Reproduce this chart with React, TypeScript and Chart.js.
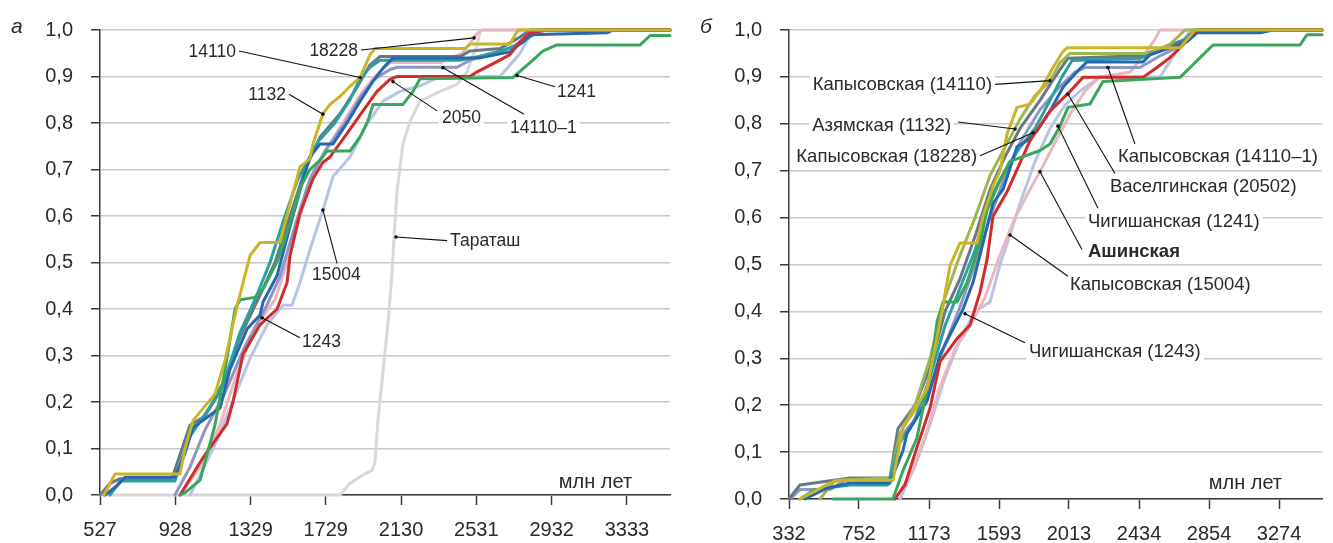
import React, { useEffect, useRef } from "react";
import { Chart, registerables } from "chart.js";

Chart.register(...registerables);

// ---------- axes ----------
const Y_TICKS = [0, 0.1, 0.2, 0.3, 0.4, 0.5, 0.6, 0.7, 0.8, 0.9, 1.0];
const L_X_TICKS = [527, 928, 1329, 1729, 2130, 2531, 2932, 3333];
const R_X_TICKS = [332, 752, 1173, 1593, 2013, 2434, 2854, 3274];
const L_X_RANGE = [527, 3562];
const R_X_RANGE = [332, 3532];

type P = [number, number];

// ---------- panel а ----------
const L_1132: P[] = [[548,0],[607,0.045],[953,0.045],[980,0.1],[1022,0.16],[1139,0.217],[1193,0.29],[1262,0.415],[1326,0.515],[1379,0.543],[1486,0.543],[1512,0.585],[1592,0.706],[1645,0.723],[1661,0.755],[1714,0.82],[1752,0.84],[1805,0.857],[1858,0.879],[1912,0.898],[1965,0.947],[1991,0.96],[2471,0.96],[2497,0.97],[2710,0.97],[2753,1],[3562,1]];
const L_1241: P[] = [[953,0],[980,0.005],[1060,0.032],[1139,0.15],[1193,0.27],[1246,0.4],[1273,0.42],[1352,0.425],[1395,0.443],[1475,0.506],[1539,0.585],[1592,0.66],[1645,0.7],[1699,0.72],[1736,0.74],[1858,0.74],[1912,0.77],[1954,0.805],[1981,0.84],[2140,0.84],[2194,0.868],[2231,0.895],[2726,0.898],[2817,0.93],[2886,0.955],[2960,0.968],[3403,0.968],[3456,0.988],[3562,0.988]];
const L_2050: P[] = [[953,0],[1075,0.08],[1150,0.123],[1203,0.153],[1235,0.2],[1288,0.302],[1379,0.366],[1470,0.4],[1523,0.457],[1539,0.515],[1592,0.606],[1661,0.68],[1714,0.715],[1752,0.727],[1842,0.777],[1927,0.826],[2002,0.868],[2071,0.894],[2109,0.9],[2497,0.9],[2535,0.91],[2641,0.932],[2710,0.947],[2764,0.975],[2817,0.994],[2907,1],[3562,1]];
const L_1243: P[] = [[554,0],[618,0.02],[660,0.038],[926,0.038],[980,0.09],[1022,0.145],[1166,0.187],[1219,0.27],[1310,0.357],[1379,0.387],[1395,0.415],[1470,0.472],[1539,0.578],[1592,0.655],[1645,0.727],[1699,0.755],[1768,0.755],[1842,0.8],[1912,0.847],[1981,0.89],[2034,0.918],[2087,0.94],[2551,0.94],[2710,0.953],[2780,0.975],[2817,0.99],[3227,0.994],[3259,1],[3562,1]];
const L_14110: P[] = [[580,0],[634,0.03],[926,0.03],[996,0.12],[1113,0.19],[1193,0.25],[1273,0.35],[1352,0.42],[1432,0.5],[1512,0.6],[1581,0.68],[1635,0.72],[1688,0.76],[1778,0.8],[1858,0.85],[1912,0.895],[1965,0.92],[2018,0.935],[2444,0.935],[2630,0.95],[2764,0.97],[2870,1],[3562,1]];
const L_GREY: P[] = [[527,0],[580,0.025],[634,0.035],[910,0.035],[964,0.1],[1006,0.15],[1086,0.17],[1177,0.23],[1273,0.34],[1379,0.43],[1459,0.5],[1539,0.6],[1619,0.7],[1699,0.77],[1805,0.82],[1885,0.87],[1965,0.925],[2018,0.943],[2444,0.943],[2497,0.955],[2657,0.96],[2764,0.985],[2817,1],[3562,1]];
const L_14110_1: P[] = [[926,0],[1006,0.06],[1086,0.14],[1193,0.22],[1299,0.32],[1406,0.4],[1486,0.47],[1566,0.58],[1645,0.68],[1725,0.74],[1832,0.8],[1912,0.855],[1991,0.895],[2071,0.915],[2109,0.92],[2428,0.92],[2497,0.935],[2604,0.95],[2710,0.96],[2817,0.99],[2897,1],[3562,1]];
const L_18228: P[] = [[953,0],[1060,0.06],[1166,0.15],[1246,0.25],[1352,0.36],[1459,0.42],[1539,0.52],[1619,0.64],[1699,0.72],[1805,0.79],[1912,0.86],[1991,0.9],[2071,0.93],[2338,0.93],[2455,0.95],[2497,0.97],[2529,0.99],[2561,1],[3562,1]];
const L_15004: P[] = [[1006,0],[1150,0.117],[1219,0.187],[1326,0.294],[1416,0.366],[1502,0.408],[1549,0.408],[1592,0.457],[1645,0.528],[1714,0.613],[1768,0.685],[1858,0.727],[1949,0.798],[2034,0.847],[2125,0.868],[2231,0.88],[2338,0.9],[2657,0.9],[2764,0.95],[2817,0.99],[2897,1],[3562,1]];
const L_TARATASH: P[] = [[527,0],[1805,0],[1858,0.025],[1927,0.043],[1975,0.053],[1991,0.07],[2007,0.16],[2034,0.266],[2061,0.372],[2082,0.479],[2093,0.557],[2109,0.655],[2140,0.755],[2178,0.804],[2231,0.847],[2338,0.868],[2428,0.883],[2481,0.91],[2535,0.968],[2551,0.996],[2567,1],[3562,1]];

// ---------- panel б ----------
const R_1132: P[] = [[398,0],[578,0.034],[638,0.04],[956,0.04],[1016,0.152],[1089,0.19],[1161,0.236],[1239,0.378],[1299,0.498],[1359,0.546],[1461,0.546],[1497,0.603],[1557,0.667],[1599,0.7],[1641,0.778],[1701,0.835],[1779,0.842],[1839,0.87],[1917,0.92],[1977,0.954],[2001,0.962],[2680,0.962],[2722,0.98],[2770,1],[3532,1]];
const R_1241: P[] = [[596,0],[956,0],[1016,0.06],[1100,0.13],[1179,0.265],[1221,0.378],[1257,0.42],[1341,0.42],[1401,0.462],[1479,0.546],[1521,0.616],[1599,0.68],[1659,0.72],[1839,0.743],[1899,0.757],[1959,0.795],[2007,0.835],[2139,0.842],[2217,0.89],[2680,0.899],[2740,0.92],[2800,0.941],[2878,0.968],[3400,0.968],[3442,0.99],[3532,0.99]];
const R_20502: P[] = [[968,0],[1028,0.03],[1100,0.11],[1179,0.194],[1239,0.293],[1341,0.342],[1419,0.371],[1479,0.441],[1521,0.511],[1557,0.603],[1641,0.655],[1779,0.764],[1899,0.827],[2019,0.869],[2097,0.899],[2457,0.899],[2541,0.92],[2619,0.941],[2698,0.968],[2740,0.99],[2800,1],[3532,1]];
const R_1243: P[] = [[428,0],[560,0.023],[698,0.034],[938,0.034],[1016,0.103],[1040,0.139],[1161,0.209],[1239,0.308],[1317,0.363],[1377,0.405],[1437,0.462],[1497,0.546],[1557,0.631],[1617,0.66],[1701,0.751],[1761,0.764],[1821,0.785],[1899,0.827],[1977,0.878],[2061,0.911],[2121,0.932],[2457,0.932],[2499,0.947],[2620,0.962],[2722,0.975],[2782,0.994],[3160,0.994],[3238,1],[3532,1]];
const R_18228: P[] = [[398,0],[488,0.02],[698,0.03],[926,0.03],[998,0.12],[1089,0.17],[1179,0.26],[1269,0.37],[1359,0.45],[1449,0.53],[1539,0.64],[1629,0.7],[1719,0.75],[1809,0.79],[1899,0.85],[1971,0.9],[2031,0.935],[2439,0.94],[2560,0.955],[2680,0.97],[2770,1],[3532,1]];
const R_14110: P[] = [[518,0],[608,0.04],[938,0.045],[998,0.14],[1089,0.2],[1179,0.3],[1269,0.43],[1359,0.52],[1449,0.6],[1539,0.69],[1629,0.75],[1719,0.81],[1809,0.86],[1899,0.892],[1959,0.93],[2019,0.95],[2499,0.95],[2620,0.97],[2710,1],[3532,1]];
const R_GREY: P[] = [[332,0],[398,0.03],[698,0.045],[938,0.045],[986,0.15],[1089,0.2],[1179,0.28],[1269,0.4],[1359,0.47],[1449,0.56],[1539,0.66],[1629,0.73],[1719,0.79],[1839,0.85],[1929,0.9],[2007,0.94],[2439,0.945],[2560,0.96],[2710,0.98],[2800,1],[3532,1]];
const R_14110_1: P[] = [[338,0],[398,0.02],[578,0.02],[668,0.04],[950,0.04],[998,0.13],[1089,0.17],[1179,0.24],[1269,0.33],[1359,0.41],[1449,0.5],[1539,0.6],[1629,0.69],[1719,0.76],[1839,0.83],[1959,0.88],[2049,0.91],[2109,0.92],[2439,0.92],[2560,0.945],[2650,0.96],[2740,0.99],[2800,1],[3532,1]];
const R_ASHA: P[] = [[968,0],[1058,0.05],[1148,0.13],[1239,0.24],[1329,0.32],[1419,0.37],[1509,0.43],[1599,0.52],[1689,0.6],[1779,0.66],[1839,0.698],[1929,0.76],[2019,0.82],[2109,0.87],[2199,0.9],[2379,0.91],[2469,0.95],[2529,0.98],[2559,1],[3532,1]];
const R_15004: P[] = [[998,0],[1089,0.07],[1179,0.16],[1269,0.26],[1359,0.34],[1449,0.4],[1539,0.42],[1599,0.5],[1659,0.563],[1719,0.63],[1809,0.72],[1899,0.79],[1989,0.84],[2079,0.87],[2199,0.9],[2560,0.9],[2650,0.95],[2740,1],[3532,1]];

// ---------- styles ----------
const C = {
  yellow: "#c9b526",
  green: "#38a65b",
  red: "#d22b2b",
  blue: "#2668b0",
  teal: "#27a29e",
  olive: "#a0b64c",
  steel: "#667888",
  lavender: "#9096c4",
  pink: "#eab6bf",
  lightblue: "#b8c4e3",
  grey: "#d8d8d8",
};

type Series = { name: string; pts: P[]; color: string };

const LEFT_SERIES: Series[] = [
  { name: "1132", pts: L_1132, color: C.yellow },
  { name: "1241", pts: L_1241, color: C.green },
  { name: "2050", pts: L_2050, color: C.red },
  { name: "1243", pts: L_1243, color: C.blue },
  { name: "14110", pts: L_14110, color: C.teal },
  { name: "—", pts: L_GREY, color: C.steel },
  { name: "14110–1", pts: L_14110_1, color: C.lavender },
  { name: "18228", pts: L_18228, color: C.pink },
  { name: "15004", pts: L_15004, color: C.lightblue },
  { name: "Тараташ", pts: L_TARATASH, color: C.grey },
];

const RIGHT_SERIES: Series[] = [
  { name: "Азямская (1132)", pts: R_1132, color: C.yellow },
  { name: "Чигишанская (1241)", pts: R_1241, color: C.green },
  { name: "Васелгинская (20502)", pts: R_20502, color: C.red },
  { name: "Чигишанская (1243)", pts: R_1243, color: C.blue },
  { name: "Капысовская (18228)", pts: R_18228, color: C.teal },
  { name: "Капысовская (14110)", pts: R_14110, color: C.olive },
  { name: "—", pts: R_GREY, color: C.steel },
  { name: "Капысовская (14110–1)", pts: R_14110_1, color: C.lavender },
  { name: "Ашинская", pts: R_ASHA, color: C.pink },
  { name: "Капысовская (15004)", pts: R_15004, color: C.lightblue },
];

// annotations: label anchor (tx,ty), optional line start (lx,ly), target point (px,py) — data units
type Ann = { text: string; tx: number; ty: number; align: "left" | "right"; bold?: boolean; lx?: number; ly?: number; px: number; py: number };

const LEFT_ANN: Ann[] = [
  { text: "14110", tx: 1251, ty: 0.955, align: "right", px: 1912, py: 0.898 },
  { text: "18228", tx: 1901, ty: 0.957, align: "right", px: 2519, py: 0.983 },
  { text: "1132", tx: 1517, ty: 0.862, align: "right", px: 1714, py: 0.819 },
  { text: "1241", tx: 2960, ty: 0.868, align: "left", lx: 2950, ly: 0.878, px: 2748, py: 0.902 },
  { text: "2050", tx: 2348, ty: 0.813, align: "left", lx: 2322, ly: 0.826, px: 2087, py: 0.889 },
  { text: "14110–1", tx: 2710, ty: 0.791, align: "left", lx: 2785, ly: 0.819, px: 2353, py: 0.919 },
  { text: "Тараташ", tx: 2391, ty: 0.547, align: "left", px: 2103, py: 0.555 },
  { text: "15004", tx: 1656, ty: 0.474, align: "left", lx: 1789, ly: 0.498, px: 1714, py: 0.613 },
  { text: "1243", tx: 1603, ty: 0.33, align: "left", lx: 1592, ly: 0.338, px: 1390, py: 0.381 },
];

const RIGHT_ANN: Ann[] = [
  { text: "Капысовская (14110)", tx: 1551, ty: 0.884, align: "right", px: 1899, py: 0.892 },
  { text: "Азямская (1132)", tx: 1305, ty: 0.797, align: "right", lx: 1347, ly: 0.804, px: 1689, py: 0.789 },
  { text: "Капысовская (18228)", tx: 1461, ty: 0.732, align: "right", px: 1797, py: 0.781 },
  { text: "Капысовская (14110–1)", tx: 2307, ty: 0.732, align: "left", lx: 2409, ly: 0.757, px: 2247, py: 0.92 },
  { text: "Васелгинская (20502)", tx: 2259, ty: 0.667, align: "left", lx: 2289, ly: 0.694, px: 2007, py: 0.863 },
  { text: "Чигишанская (1241)", tx: 2127, ty: 0.593, align: "left", lx: 2187, ly: 0.62, px: 1947, py: 0.795 },
  { text: "Ашинская", tx: 2127, ty: 0.53, align: "left", bold: true, lx: 2091, ly: 0.532, px: 1839, py: 0.698 },
  { text: "Капысовская (15004)", tx: 2019, ty: 0.458, align: "left", lx: 2007, ly: 0.475, px: 1659, py: 0.563 },
  { text: "Чигишанская (1243)", tx: 1773, ty: 0.316, align: "left", lx: 1749, ly: 0.333, px: 1389, py: 0.395 },
];

const FONT = "'Liberation Sans', Arial, sans-serif";
const AXIS_COLOR = "#3a3a3a";
const TEXT_COLOR = "#2a2a2a";

type PanelCfg = {
  series: Series[];
  ann: Ann[];
  annSize: number;
  xTicks: number[];
  xRange: number[];
  letter: string;
  unitX: number;
  unitY: number;
  padRight: number;
  xHeight: number;
};

function makeChart(canvas: HTMLCanvasElement, cfg: PanelCfg) {
  const annPlugin = {
    id: "ann",
    afterDatasetsDraw(chart: any) {
      const ctx = chart.ctx as CanvasRenderingContext2D;
      const xs = chart.scales.x;
      const ys = chart.scales.y;
      ctx.save();
      for (const a of cfg.ann) {
        ctx.font = `${a.bold ? "bold " : ""}${cfg.annSize}px ${FONT}`;
        const w = ctx.measureText(a.text).width;
        const tx = xs.getPixelForValue(a.tx);
        const ty = ys.getPixelForValue(a.ty);
        const left = a.align === "left" ? tx : tx - w;
        ctx.fillStyle = "#ffffff";
        ctx.fillRect(left - 3, ty - 10, w + 6, 20);
        const px = xs.getPixelForValue(a.px);
        const py = ys.getPixelForValue(a.py);
        let lx: number, ly: number;
        if (a.lx !== undefined && a.ly !== undefined) {
          lx = xs.getPixelForValue(a.lx);
          ly = ys.getPixelForValue(a.ly);
        } else {
          lx = a.align === "left" ? tx - 3 : tx + 3;
          ly = ty;
        }
        ctx.strokeStyle = "#111";
        ctx.lineWidth = 1.1;
        ctx.beginPath();
        ctx.moveTo(lx, ly);
        ctx.lineTo(px, py);
        ctx.stroke();
        ctx.fillStyle = "#111";
        ctx.beginPath();
        ctx.arc(px, py, 1.8, 0, Math.PI * 2);
        ctx.fill();
        ctx.fillStyle = TEXT_COLOR;
        ctx.textBaseline = "middle";
        ctx.textAlign = "left";
        ctx.fillText(a.text, left, ty + 1);
      }
      // unit label
      ctx.font = `20px ${FONT}`;
      ctx.fillStyle = TEXT_COLOR;
      ctx.textAlign = "right";
      ctx.textBaseline = "middle";
      ctx.fillText("млн лет", xs.getPixelForValue(cfg.unitX), ys.getPixelForValue(cfg.unitY));
      // panel letter
      ctx.font = `italic 21px ${FONT}`;
      ctx.textAlign = "left";
      ctx.fillText(cfg.letter, chart.chartArea.left - 89, chart.chartArea.top - 3);
      ctx.restore();
    },
  };

  return new Chart(canvas, {
    type: "line",
    data: {
      datasets: cfg.series.map((s) => ({
        label: s.name,
        data: s.pts.map(([x, y]) => ({ x, y })),
        borderColor: s.color,
        backgroundColor: s.color,
        borderWidth: 3,
        pointRadius: 0,
        tension: 0,
        fill: false,
        clip: 4,
        borderJoinStyle: "round" as const,
        borderCapStyle: "round" as const,
      })),
    },
    options: {
      animation: false,
      responsive: false,
      maintainAspectRatio: false,
      layout: { padding: { top: 25, right: cfg.padRight, left: 0, bottom: 0 } },
      plugins: { legend: { display: false }, tooltip: { enabled: false } },
      scales: {
        x: {
          type: "linear",
          min: cfg.xRange[0],
          max: cfg.xRange[1],
          afterBuildTicks: (axis: any) => {
            axis.ticks = cfg.xTicks.map((v) => ({ value: v }));
          },
          afterFit: (s: any) => {
            s.height = cfg.xHeight;
          },
          ticks: {
            autoSkip: false,
            maxRotation: 0,
            padding: 13,
            color: TEXT_COLOR,
            font: { family: FONT, size: 20 },
            callback: (v: any) => String(v),
          },
          grid: { drawOnChartArea: false, drawTicks: true, tickLength: 10, tickColor: AXIS_COLOR, tickWidth: 1.5 },
          border: { color: AXIS_COLOR, width: 1.5 },
        },
        y: {
          type: "linear",
          min: 0,
          max: 1,
          afterBuildTicks: (axis: any) => {
            axis.ticks = Y_TICKS.map((v) => ({ value: v }));
          },
          afterFit: (s: any) => {
            s.width = 100;
          },
          ticks: {
            padding: 18,
            color: TEXT_COLOR,
            font: { family: FONT, size: 20 },
            callback: (v: any) => Number(v).toFixed(1).replace(".", ","),
          },
          grid: { color: "#c9c9c9", lineWidth: 1.5, tickLength: 9, tickColor: AXIS_COLOR, tickWidth: 1.5 },
          border: { color: AXIS_COLOR, width: 1.5 },
        },
      },
    },
    plugins: [annPlugin],
  } as any);
}

export default function App() {
  const leftRef = useRef<HTMLCanvasElement>(null);
  const rightRef = useRef<HTMLCanvasElement>(null);

  useEffect(() => {
    document.body.style.margin = "0";
    const charts: Chart[] = [];
    if (leftRef.current) {
      charts.push(
        makeChart(leftRef.current, {
          series: LEFT_SERIES,
          ann: LEFT_ANN,
          annSize: 17.5,
          xTicks: L_X_TICKS,
          xRange: L_X_RANGE,
          letter: "а",
          unitX: 3360,
          unitY: 0.026,
          padRight: 20,
          xHeight: 48,
        })
      );
    }
    if (rightRef.current) {
      charts.push(
        makeChart(rightRef.current, {
          series: RIGHT_SERIES,
          ann: RIGHT_ANN,
          annSize: 18.5,
          xTicks: R_X_TICKS,
          xRange: R_X_RANGE,
          letter: "б",
          unitX: 3292,
          unitY: 0.034,
          padRight: 11,
          xHeight: 44,
        })
      );
    }
    return () => charts.forEach((c) => c.destroy());
  }, []);

  return (
    <div style={{ position: "relative", width: 1333, height: 543, background: "#fff", overflow: "hidden" }}>
      <canvas ref={leftRef} width={690} height={543} style={{ position: "absolute", left: 0, top: 0, width: 690, height: 543 }} />
      <canvas ref={rightRef} width={644} height={543} style={{ position: "absolute", left: 689, top: 0, width: 644, height: 543 }} />
    </div>
  );
}
